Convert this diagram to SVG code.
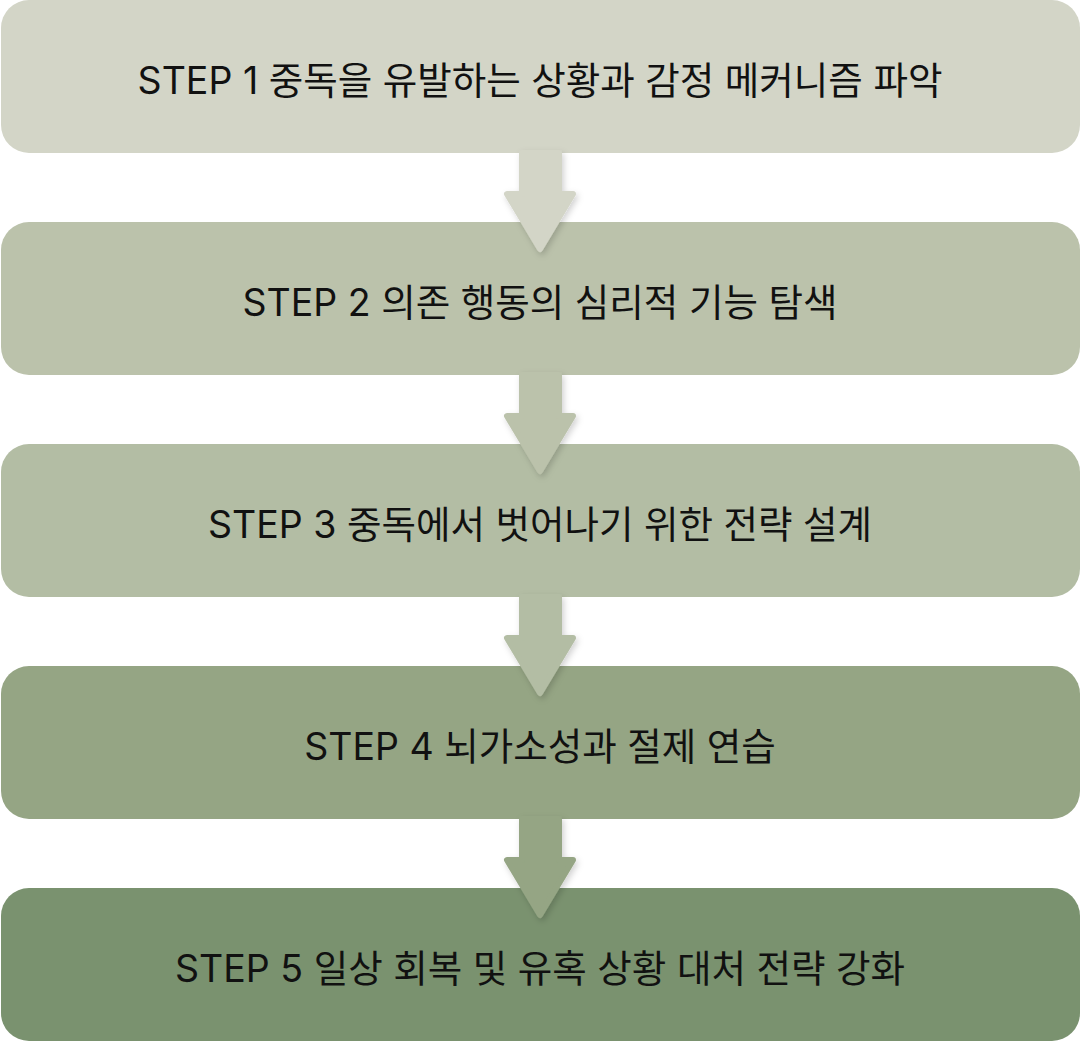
<svg xmlns="http://www.w3.org/2000/svg" width="1081" height="1041" viewBox="0 0 1081 1041">
<defs>
<style>
.t{font-family:"Inter","Noto Sans CJK KR",sans-serif;font-size:37.5px;fill:#111;text-anchor:middle}
</style>
<filter id="sh" x="-50%" y="-50%" width="200%" height="200%"><feDropShadow dx="2" dy="3" stdDeviation="3" flood-color="#000" flood-opacity="0.18"/></filter>
</defs>
<rect width="1081" height="1041" fill="#fff"/>
<g id="n1"><rect x="1" y="0" width="1079" height="153" rx="28" fill="#D3D5C7"/><text class="t" x="540" y="94">STEP 1 중독을 유발하는 상황과 감정 메커니즘 파악</text></g>
<g id="n2"><rect x="1" y="222" width="1079" height="153" rx="28" fill="#BBC2AB"/><text class="t" x="540" y="316">STEP 2 의존 행동의 심리적 기능 탐색</text></g>
<g id="n3"><rect x="1" y="444" width="1079" height="153" rx="28" fill="#B3BDA4"/><text class="t" x="540" y="538">STEP 3 중독에서 벗어나기 위한 전략 설계</text></g>
<g id="n4"><rect x="1" y="666" width="1079" height="153" rx="28" fill="#95A584"/><text class="t" x="540" y="760">STEP 4 뇌가소성과 절제 연습</text></g>
<g id="n5"><rect x="1" y="888" width="1079" height="153" rx="28" fill="#7A926F"/><text class="t" x="540" y="982">STEP 5 일상 회복 및 유혹 상황 대처 전략 강화</text></g>
<g id="connectors" stroke-linejoin="round" stroke-width="6" filter="url(#sh)">
<path d="M522 153 H559 V194 H573 L540 249 L507 194 H522 Z" fill="#D3D5C7" stroke="#D3D5C7"/>
<path d="M522 375 H559 V416 H573 L540 471 L507 416 H522 Z" fill="#BBC2AB" stroke="#BBC2AB"/>
<path d="M522 597 H559 V638 H573 L540 693 L507 638 H522 Z" fill="#B3BDA4" stroke="#B3BDA4"/>
<path d="M522 819 H559 V860 H573 L540 915 L507 860 H522 Z" fill="#95A584" stroke="#95A584"/>
</g>
</svg>
